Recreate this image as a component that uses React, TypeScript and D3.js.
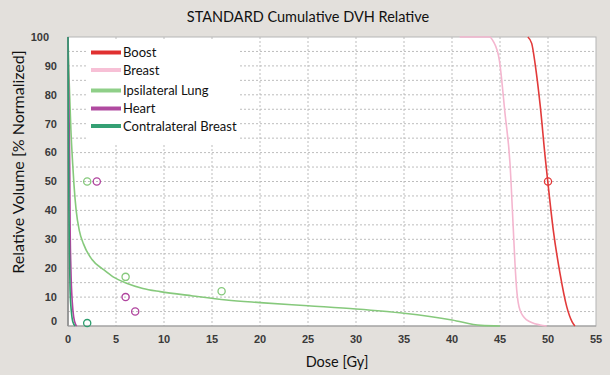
import React from "react";
import * as d3 from "d3";

const title = "STANDARD Cumulative DVH Relative";
const xTicks = [0, 5, 10, 15, 20, 25, 30, 35, 40, 45, 50, 55];
const yTicks = [0, 10, 20, 30, 40, 50, 60, 70, 80, 90, 100];
const xGrid = [5, 10, 15, 20, 25, 30, 35, 40, 45, 50];
const yGrid = [5, 10, 15, 20, 25, 30, 35, 40, 45, 50, 55, 60, 65, 70, 75, 80, 85, 90, 95];

const seriesNames = ["Boost", "Breast", "Ipsilateral Lung", "Heart", "Contralateral Breast"];
const seriesColors = ["#e23a3a", "#f4b6cf", "#86c97c", "#b0449e", "#2e9e6e"];
const legendColors = ["#e03030", "#f7c0d6", "#8fcf88", "#b04aa0", "#35a074"];

const boostDose = [47.9, 48.3, 48.65, 49.2, 49.7, 49.97, 50.55, 51.25, 51.95, 52.5, 52.8];
const boostVol = [100, 97.8, 90.9, 75.9, 58.6, 50.2, 33.2, 18.2, 6.7, 1.5, 0];

const breastDose = [40.8, 43.9, 44.3, 44.93, 45.52, 46.04, 46.39, 46.56, 46.74, 47.08, 47.78, 49.17, 49.86];
const breastVol = [100, 100, 98.5, 92, 73.6, 56.3, 33.2, 21.7, 12.5, 5.5, 2.1, 0.35, 0];

const lungDose = [0, 0.07, 0.14, 0.3, 0.49, 0.62, 0.85, 1.18, 1.6, 2.5, 3.7, 4.7, 6.1, 7.8, 9.6, 13, 16.5, 20, 25, 30, 35, 40, 43, 45];
const lungVol = [100, 90, 83, 68, 56, 49, 40, 33, 28.5, 23, 19.5, 17, 14.8, 13, 11.9, 10.4, 9.0, 8.1, 7.0, 5.9, 4.4, 2.1, 0.2, 0];

const heartDose = [0, 0.04, 0.1, 0.18, 0.22, 0.3, 0.45, 0.6, 0.8, 0.9];
const heartVol = [100, 90, 75, 55, 35, 20, 8, 3, 0.5, 0];

const contraDose = [0, 0.03, 0.06, 0.1, 0.15, 0.22, 0.35, 0.5, 0.75];
const contraVol = [100, 80, 60, 40, 25, 12, 5, 1.5, 0];

const markerSeries = [0, 2, 3, 2, 3, 3, 2, 4];
const markerDose = [50, 2, 3, 6, 6, 7, 16, 2];
const markerVol = [50, 50, 50, 17, 10, 5, 12, 1];

const seriesDose = [boostDose, breastDose, lungDose, heartDose, contraDose];
const seriesVol = [boostVol, breastVol, lungVol, heartVol, contraVol];

const W = 610;
const H = 375;
const plot = { left: 68, right: 596, top: 37, bottom: 326 };
const textFont = "Lato, 'Open Sans', sans-serif";
const tickFont = "'Liberation Sans', Arial, sans-serif";

export default function App() {
  const x = d3.scaleLinear().domain([0, 55]).range([plot.left, plot.right]);
  const y = d3.scaleLinear().domain([0, 100]).range([plot.bottom, plot.top]);
  const line = d3
    .line<[number, number]>()
    .x((d) => x(d[0]))
    .y((d) => y(d[1]))
    .curve(d3.curveMonotoneX);

  const order = [2, 1, 0, 3, 4];

  return (
    <div style={{ position: "fixed", left: 0, top: 0 }}>
      <svg width={W} height={H} style={{ display: "block" }}>
        <rect x={0} y={0} width={W} height={H} fill="#e3e0dc" />
        <rect
          x={plot.left}
          y={plot.top}
          width={plot.right - plot.left}
          height={plot.bottom - plot.top}
          fill="#ffffff"
        />
        {xGrid.map((v) => (
          <line
            key={"xg" + v}
            x1={x(v)}
            x2={x(v)}
            y1={plot.top}
            y2={plot.bottom}
            stroke="#bdbdbd"
            strokeWidth={1}
            strokeDasharray="2,2"
          />
        ))}
        {yGrid.map((v) => (
          <line
            key={"yg" + v}
            x1={plot.left}
            x2={plot.right}
            y1={y(v)}
            y2={y(v)}
            stroke="#bdbdbd"
            strokeWidth={1}
            strokeDasharray="2,2"
          />
        ))}
        <rect
          x={plot.left}
          y={plot.top}
          width={plot.right - plot.left}
          height={plot.bottom - plot.top}
          fill="none"
          stroke="#b5b5b5"
          strokeWidth={1}
        />
        <line x1={plot.left} x2={plot.left} y1={plot.top} y2={plot.bottom} stroke="#868686" strokeWidth={1.5} />
        <line x1={plot.left} x2={plot.right} y1={plot.bottom} y2={plot.bottom} stroke="#9a9a9a" strokeWidth={1} />

        {/* legend */}
        <rect x={88} y={41} width={152} height={103} fill="#ffffff" />
        {seriesNames.map((n, i) => {
          const ly = [52.5, 70, 90.5, 108.5, 126][i];
          return (
            <g key={"lg" + n}>
              <line x1={91} x2={121} y1={ly} y2={ly} stroke={legendColors[i]} strokeWidth={4} />
              <text
                x={123}
                y={ly}
                dy="0.35em"
                fontFamily={textFont}
                fontSize={13}
                fill="#111"
              >
                {n}
              </text>
            </g>
          );
        })}

        {order.map((i) => (
          <path
            key={"s" + i}
            d={line(seriesDose[i].map((d, j) => [d, seriesVol[i][j]] as [number, number])) || ""}
            fill="none"
            stroke={seriesColors[i]}
            strokeWidth={1.6}
          />
        ))}

        {markerDose.map((d, i) => (
          <circle
            key={"m" + i}
            cx={x(d)}
            cy={y(markerVol[i])}
            r={3.6}
            fill="none"
            stroke={seriesColors[markerSeries[i]]}
            strokeWidth={1.3}
          />
        ))}

        {xTicks.map((v) => (
          <text
            key={"xt" + v}
            x={x(v)}
            y={339}
            dy="0.35em"
            textAnchor="middle"
            fontFamily={tickFont}
            fontWeight="bold"
            fontSize={11}
            fill="#3a3a3a"
          >
            {v}
          </text>
        ))}
        {yTicks.map((v) => (
          <text
            key={"yt" + v}
            x={v === 100 ? 49 : 57}
            y={y(v) + (v === 0 ? -4.5 : 0)}
            dy="0.35em"
            textAnchor="end"
            fontFamily={tickFont}
            fontWeight="bold"
            fontSize={11}
            fill="#3a3a3a"
          >
            {v}
          </text>
        ))}

        <text
          x={308}
          y={17}
          dy="0.35em"
          textAnchor="middle"
          fontFamily={textFont}
          fontSize={14.5}
          fill="#111"
        >
          {title}
        </text>
        <text
          x={337}
          y={362}
          dy="0.35em"
          textAnchor="middle"
          fontFamily={textFont}
          fontSize={14.5}
          fill="#111"
        >
          Dose [Gy]
        </text>
        <text
          transform={`translate(18,162) rotate(-90)`}
          dy="0.35em"
          textAnchor="middle"
          fontFamily={textFont}
          fontSize={16}
          fill="#111"
        >
          Relative Volume [% Normalized]
        </text>
      </svg>
    </div>
  );
}
